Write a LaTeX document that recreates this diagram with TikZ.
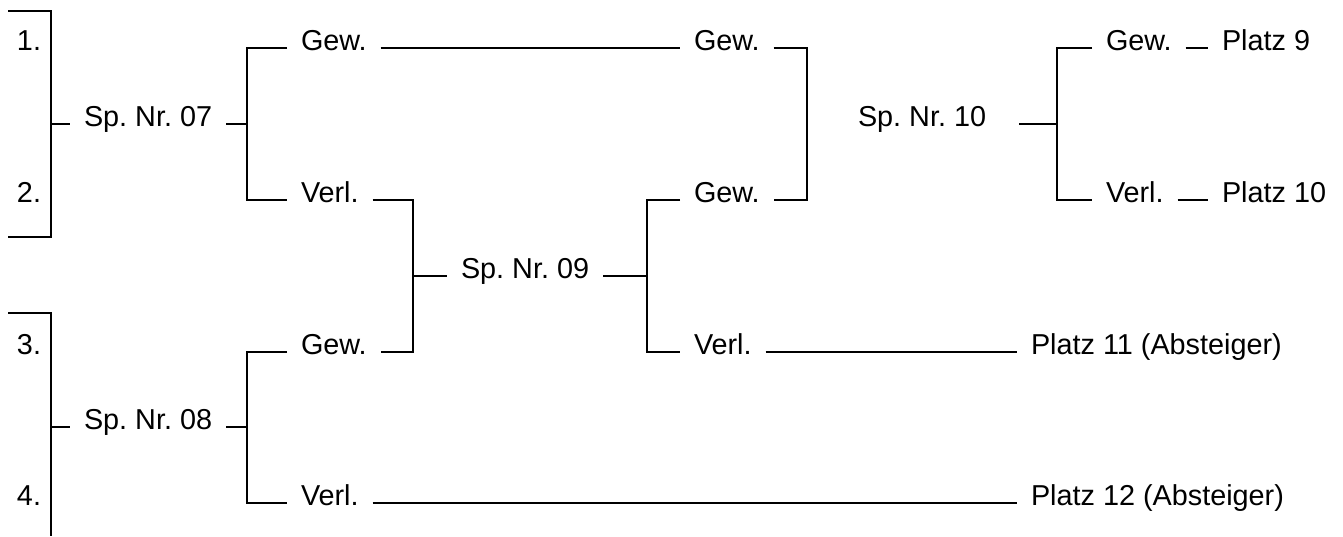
\documentclass[tikz,border=0pt]{standalone}
\usepackage{fontspec}
\setmainfont{Liberation Sans}
\frenchspacing
\begin{document}
\begin{tikzpicture}[x=0.5pt,y=-0.5pt,line width=1pt]
\tikzstyle{every node}+=[inner xsep=6.5pt,inner ysep=0pt,anchor=west,text height=0.56em,text depth=0.32em,font=\fontsize{14.4}{17}\selectfont\frenchspacing]
\useasboundingbox (0,0) rectangle (1343,536);
% Setzliste
\node [anchor=center] (s1) at (29,48) {1.};
\node [anchor=center] (s2) at (29,200) {2.};
\node [anchor=center] (s3) at (29,352) {3.};
\node [anchor=center] (s4) at (29,503) {4.};
\coordinate (t1) at (8,11);
\coordinate (t2) at (8,237);
\coordinate (t3) at (8,313);
\coordinate (t4) at (51,536);
\coordinate (b1) at (51,124);
\coordinate (b2) at (51,427);
\draw (t1) -| (b1) |- (t2);
\draw (t3) -| (t4);
% Spiele
\node (m7) at (70,124) {Sp. Nr. 07};
\node (g7) at (287,48) {Gew.};
\node (v7) at (287,200) {Verl.};
\node (m8) at (70,427) {Sp. Nr. 08};
\node (g8) at (287,352) {Gew.};
\node (v8) at (287,503) {Verl.};
\node (m9) at (447,276) {Sp. Nr. 09};
\node (gA) at (680,48) {Gew.};
\node (g9) at (680,200) {Gew.};
\node (v9) at (680,352) {Verl.};
\node (m10) at (844,124) {Sp. Nr. 10};
\node (g10) at (1092,48) {Gew.};
\node (v10) at (1092,200) {Verl.};
\node (p9) at (1208,48) {Platz 9};
\node (p10) at (1208,200) {Platz 10};
\node (p11) at (1017,352) {Platz 11 (Absteiger)};
\node (p12) at (1017,503) {Platz 12 (Absteiger)};
% Verbindungen
\coordinate (k7) at (247,124);
\coordinate (k8) at (247,427);
\coordinate (k9a) at (413,276);
\coordinate (k9) at (647,276);
\coordinate (kA) at (807,124);
\coordinate (c10) at (1019,124);
\coordinate (k10) at (1057,124);
\draw (b1) -- (m7.west);
\draw (b2) -- (m8.west);
\draw (g7.west) -| (k7) |- (v7.west);
\draw (m7.east) -- (k7);
\draw (g8.west) -| (k8) |- (v8.west);
\draw (m8.east) -- (k8);
\draw (v7.east) -| (k9a) |- (g8.east);
\draw (k9a) -- (m9.west);
\draw (g9.west) -| (k9) |- (v9.west);
\draw (m9.east) -- (k9);
\draw (g7.east) -- (gA.west);
\draw (gA.east) -| (kA) |- (g9.east);
\draw (g10.west) -| (k10) |- (v10.west);
\draw (c10) -- (k10);
\draw (g10.east) -- (p9.west);
\draw (v10.east) -- (p10.west);
\draw (v9.east) -- (p11.west);
\draw (v8.east) -- (p12.west);
\end{tikzpicture}
\end{document}
